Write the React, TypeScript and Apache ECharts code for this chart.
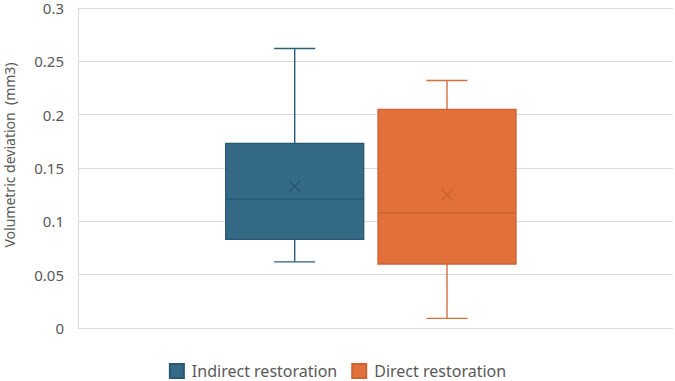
import React, { useEffect, useRef } from "react";
import * as echarts from "echarts";

// ---- data ----
const categories = ["Volumetric deviation"];
const seriesNames = ["Indirect restoration", "Direct restoration"];
// [min, Q1, median, Q3, max]
const indirectBox = [0.062, 0.083, 0.121, 0.173, 0.262];
const directBox = [0.009, 0.06, 0.108, 0.205, 0.232];
const indirectMean = 0.133;
const directMean = 0.125;
const yMin = 0;
const yMax = 0.3;
const yInterval = 0.05;
const yAxisTitle = "Volumetric deviation  (mm3)";

const FONT = "'Noto Sans', sans-serif";

type Style = { fill: string; stroke: string; whisker: string; mean: string; offset: number };

const styles: Style[] = [
  { fill: "#356A86", stroke: "#275871", whisker: "#2C5E79", mean: "#2A5670", offset: -80.8 },
  { fill: "#E2703A", stroke: "#CC6330", whisker: "#D4703E", mean: "#C8642F", offset: 71.5 },
];

function makeSeries(name: string, box: number[], mean: number, st: Style) {
  const BOX_W = 138;
  const CAP_W = 41;
  const MEAN_S = 5.5;
  return {
    type: "custom",
    name,
    itemStyle: { color: st.fill, borderColor: st.stroke, borderWidth: 1 },
    data: [[0, ...box, mean]],
    renderItem: (params: any, api: any) => {
      const idx = api.value(0);
      const cx = api.coord([idx, 0])[0] + st.offset;
      const y = (i: number) => api.coord([idx, api.value(i)])[1];
      const yMinP = y(1), yQ1 = y(2), yMed = y(3), yQ3 = y(4), yMaxP = y(5), yMean = y(6);
      const line = (x1: number, y1: number, x2: number, y2: number, color: string) => ({
        type: "line",
        shape: { x1, y1, x2, y2 },
        style: { stroke: color, lineWidth: 1.4 },
      });
      return {
        type: "group",
        children: [
          line(cx, yQ3, cx, yMaxP, st.whisker),
          line(cx, yMinP, cx, yQ1, st.whisker),
          line(cx - CAP_W / 2, yMaxP, cx + CAP_W / 2, yMaxP, st.whisker),
          line(cx - CAP_W / 2, yMinP, cx + CAP_W / 2, yMinP, st.whisker),
          {
            type: "rect",
            shape: { x: cx - BOX_W / 2, y: yQ3, width: BOX_W, height: yQ1 - yQ3 },
            style: { fill: st.fill, stroke: st.stroke, lineWidth: 1.3 },
          },
          line(cx - BOX_W / 2, yMed, cx + BOX_W / 2, yMed, st.stroke),
          line(cx - MEAN_S, yMean - MEAN_S, cx + MEAN_S, yMean + MEAN_S, st.mean),
          line(cx - MEAN_S, yMean + MEAN_S, cx + MEAN_S, yMean - MEAN_S, st.mean),
        ],
      };
    },
  };
}

export default function App() {
  const ref = useRef<HTMLDivElement>(null);
  useEffect(() => {
    document.body.style.margin = "0";
    const chart = echarts.init(ref.current!, undefined, { renderer: "svg" });
    chart.setOption({
      animation: false,
      backgroundColor: "#ffffff",
      textStyle: { fontFamily: FONT },
      grid: { left: 78, right: 2, top: 8, bottom: 53 },
      xAxis: {
        type: "category",
        data: categories,
        axisLabel: { show: false },
        axisTick: { show: false },
        axisLine: { show: false },
        splitLine: { show: false },
      },
      yAxis: {
        type: "value",
        min: yMin,
        max: yMax,
        interval: yInterval,
        axisLine: { show: true, lineStyle: { color: "#D9D9D9", width: 1 } },
        axisTick: { show: false },
        axisLabel: { color: "#595959", fontSize: 15, lineHeight: 14, margin: 14, fontFamily: FONT },
        splitLine: { lineStyle: { color: "#D9D9D9", width: 1 } },
      },
      legend: {
        top: 358,
        left: "center",
        icon: "rect",
        itemWidth: 14,
        itemHeight: 14,
        itemGap: 14,
        data: seriesNames,
        textStyle: { color: "#595959", fontSize: 16, lineHeight: 16, padding: [0, 0, 0, 3], fontFamily: FONT },
      },
      graphic: [
        {
          type: "text",
          x: 9,
          y: 155,
          rotation: Math.PI / 2,
          style: {
            text: yAxisTitle,
            fill: "#595959",
            fontSize: 14,
            fontFamily: FONT,
            textAlign: "center",
            textVerticalAlign: "middle",
          },
        },
      ],
      series: [
        makeSeries(seriesNames[0], indirectBox, indirectMean, styles[0]),
        makeSeries(seriesNames[1], directBox, directMean, styles[1]),
      ],
    });
    return () => chart.dispose();
  }, []);
  return <div ref={ref} style={{ width: 675, height: 381 }} />;
}
